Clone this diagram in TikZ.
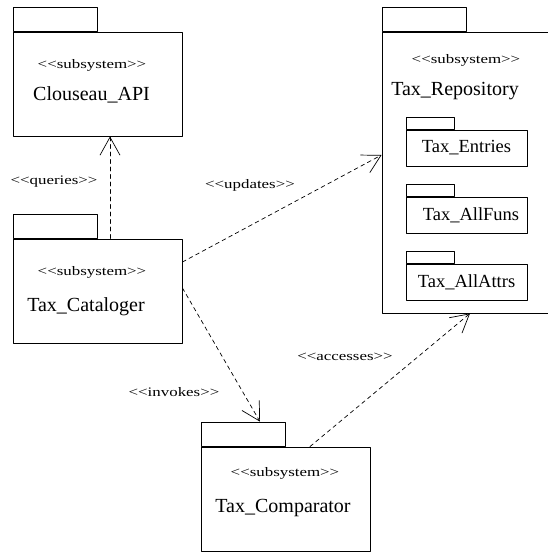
\documentclass[tikz,border=0pt]{standalone}
\usepackage{fontspec}
\setmainfont{Liberation Serif}
\newfontfamily\stereofont[FakeStretch=1.3]{Liberation Serif}
\usetikzlibrary{arrows.meta}

\begin{document}
\begin{tikzpicture}[line cap=round,line join=round,x=1pt,y=-1pt,
    pkg/.style={draw,line width=0.9pt,inner sep=0pt,minimum width=169pt,minimum height=104pt},
    tab/.style={draw,line width=0.9pt,inner sep=0pt,minimum width=84pt,minimum height=24pt,anchor=south west},
    subpkg/.style={draw,line width=0.9pt,inner sep=0pt,minimum width=121pt,minimum height=36pt,font=\fontsize{18.5}{21}\selectfont},
    subtab/.style={draw,line width=0.9pt,inner sep=0pt,minimum width=48pt,minimum height=12pt,anchor=south west},
    stereo/.style={font=\stereofont\fontsize{13}{15}\selectfont,inner sep=0pt},
    title/.style={font=\fontsize{20}{24}\selectfont,inner sep=0pt},
    dep/.style={line width=0.7pt,dash pattern=on 4pt off 3.5pt,-{Straight Barb[length=18pt,width=20pt,line width=0.7pt]}}]
    \useasboundingbox (0,0) rectangle (548,552);
    \clip (0,0) rectangle (548,552);
    % packages
    \node[pkg] (clou) at (97.5,84) {};
    \node[tab] (cloutab) at (clou.north west) {};
    \node[pkg] (cat) at (97.5,291) {};
    \node[tab] (cattab) at (cat.north west) {};
    \node[pkg] (comp) at (285.5,499) {};
    \node[tab] (comptab) at (comp.north west) {};
    \node[pkg,minimum width=190pt,minimum height=281pt] (repo) at (477,172.5) {};
    \node[tab] (repotab) at (repo.north west) {};
    % nested packages
    \node[subpkg] (entries) at (466.5,148) {Tax\_Entries};
    \node[subtab] (entriestab) at (entries.north west) {};
    \node[subpkg] (allfuns) at (466.5,215) {\hspace{9pt}Tax\_AllFuns};
    \node[subtab] (allfunstab) at (allfuns.north west) {};
    \node[subpkg] (allattrs) at (466.5,282) {Tax\_AllAttrs};
    \node[subtab] (allattrstab) at (allattrs.north west) {};
    % names
    \node[stereo] (clous) at (92,65) {<<subsystem>>};
    \node[title] (clout) at (91.5,95) {Clouseau\_API};
    \node[stereo] (repos) at (466,60) {<<subsystem>>};
    \node[title] (repot) at (455,91) {Tax\_Repository};
    \node[stereo] (cats) at (92,272) {<<subsystem>>};
    \node[title] (catt) at (86,307) {Tax\_Cataloger};
    \node[stereo] (comps) at (285,473) {<<subsystem>>};
    \node[title] (compt) at (283,508) {Tax\_Comparator};
    % dependencies
    \draw[dep] ([xshift=12.5pt]cat.north) -- ([xshift=12.5pt]clou.south);
    \draw[dep] ([yshift=29pt]cat.east) -- ([yshift=17.5pt]repo.west);
    \draw[dep] ([yshift=3pt]cat.east) -- ([xshift=17pt]comptab.north);
    \draw[dep] ([xshift=24.5pt]comp.north) -- ([xshift=-7pt]repo.south);
    \node[stereo] (queries) at (54,182) {<<queries>>};
    \node[stereo] (updates) at (250,185) {<<updates>>};
    \node[stereo] (invokes) at (174,392) {<<invokes>>};
    \node[stereo] (accesses) at (345,357) {<<accesses>>};
\end{tikzpicture}
\end{document}
